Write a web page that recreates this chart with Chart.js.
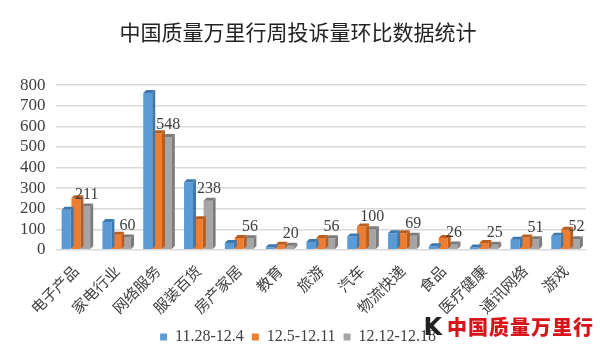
<!DOCTYPE html>
<html lang="zh">
<head>
  <meta charset="UTF-8" />
  <title>中国质量万里行周投诉量环比数据统计</title>
  <script src="https://cdn.jsdelivr.net/npm/chart.js"></script>
  <style>
    html, body { margin: 0; padding: 0; background: #fff; }
    #wrap { position: relative; width: 600px; height: 359px; }
    /* watermark in the corner */
    #logo {
      position: absolute; right: 6px; top: 312px;
      font-family: "Noto Sans CJK SC", sans-serif; font-weight: 900;
      font-size: 20px; color: #d7141a; letter-spacing: 1px;
    }
    #logo b { color: #222; font-family: "DejaVu Sans", sans-serif; font-size: 24px; margin-right: 4px; }
  </style>
</head>
<body>
<div id="wrap">
  <canvas id="chart" width="600" height="359"></canvas>
  <div id="logo"><b>K</b>中国质量万里行</div>
</div>

<script>
  // ==== DATA ====
  const categories = ['电子产品', '家电行业', '网络服务', '服装百货', '房产家居', '教育', '旅游',
                      '汽车', '物流快递', '食品', '医疗健康', '通讯网络', '游戏'];
  const week1 = [195, 135, 762, 328, 33, 13, 38, 65, 81, 17, 12, 49, 68];   // 11.28-12.4
  const week2 = [251, 73, 567, 149, 57, 25, 57, 114, 81, 57, 33, 60, 98];   // 12.5-12.11
  const week3 = [211, 60, 548, 238, 56, 20, 56, 100, 69, 26, 25, 51, 52];   // 12.12-12.18
  const seriesNames = ['11.28-12.4', '12.5-12.11', '12.12-12.18'];
  const yTicks = [0, 100, 200, 300, 400, 500, 600, 700, 800];

  const colors = ['#5B9BD5', '#ED7D31', '#A5A5A5'];
  const sideColors = ['#3f78ad', '#b95d1f', '#7b7b7b'];

  // fake 3D: side and top faces for every bar, drawn per dataset so later bars cover earlier sides
  const depthPlugin = {
    id: 'depth',
    afterDatasetDraw(chart, args) {
      const ctx = chart.ctx;
      const d = 3;
      const i = args.index;
      args.meta.data.forEach(bar => {
        const p = bar.getProps(['x', 'y', 'base', 'width'], true);
        const l = p.x - p.width / 2, r = p.x + p.width / 2;
        ctx.save();
        ctx.fillStyle = sideColors[i];
        ctx.beginPath();
        ctx.moveTo(r, p.y); ctx.lineTo(r + d, p.y - d);
        ctx.lineTo(r + d, p.base - d); ctx.lineTo(r, p.base);
        ctx.closePath(); ctx.fill();
        ctx.beginPath();
        ctx.moveTo(l, p.y); ctx.lineTo(l + d, p.y - d);
        ctx.lineTo(r + d, p.y - d); ctx.lineTo(r, p.y);
        ctx.closePath(); ctx.fill();
        ctx.restore();
      });
    }
  };

  // value labels on the last series only
  const labelPlugin = {
    id: 'lastLabels',
    afterDatasetsDraw(chart) {
      const ctx = chart.ctx;
      const meta = chart.getDatasetMeta(2);
      ctx.save();
      ctx.font = '16px "Liberation Serif", "DejaVu Serif", serif';
      ctx.fillStyle = '#404040';
      ctx.textAlign = 'center';
      ctx.textBaseline = 'bottom';
      meta.data.forEach((bar, k) => {
        ctx.fillText(week3[k], bar.x + 1, bar.y - 4);
      });
      ctx.restore();
    }
  };

  new Chart(document.getElementById('chart'), {
    type: 'bar',
    data: {
      labels: categories,
      datasets: [
        { label: seriesNames[0], data: week1, backgroundColor: colors[0] },
        { label: seriesNames[1], data: week2, backgroundColor: colors[1] },
        { label: seriesNames[2], data: week3, backgroundColor: colors[2] }
      ]
    },
    options: {
      responsive: false,
      animation: false,
      layout: { padding: { left: 10, right: 14, top: 0, bottom: 4 } },
      datasets: { bar: { categoryPercentage: 0.72, barPercentage: 0.92 } },
      scales: {
        x: {
          grid: { display: false },
          border: { display: false },
          ticks: {
            minRotation: 45, maxRotation: 45, autoSkip: false, padding: 4,
            color: '#404040',
            font: { family: '"Noto Sans CJK SC", serif', size: 15 }
          }
        },
        y: {
          min: 0, max: 800,
          afterBuildTicks(axis) { axis.ticks = yTicks.map(v => ({ value: v })); },
          grid: { color: '#d9d9d9', lineWidth: 1.5, drawTicks: false },
          border: { display: false },
          ticks: {
            autoSkip: false, padding: 10, color: '#404040',
            font: { family: '"Liberation Serif", "DejaVu Serif", serif', size: 17 }
          }
        }
      },
      plugins: {
        title: {
          display: true, text: '中国质量万里行周投诉量环比数据统计',
          color: '#222', padding: { top: 19, bottom: 41 },
          font: { family: '"Noto Sans CJK SC", sans-serif', size: 21, weight: 'normal' }
        },
        legend: {
          position: 'bottom',
          labels: {
            boxWidth: 7, boxHeight: 7, padding: 8, color: '#404040',
            font: { family: '"Liberation Serif", "DejaVu Serif", serif', size: 16 }
          }
        },
        tooltip: { enabled: false }
      }
    },
    plugins: [depthPlugin, labelPlugin]
  });
</script>
</body>
</html>
